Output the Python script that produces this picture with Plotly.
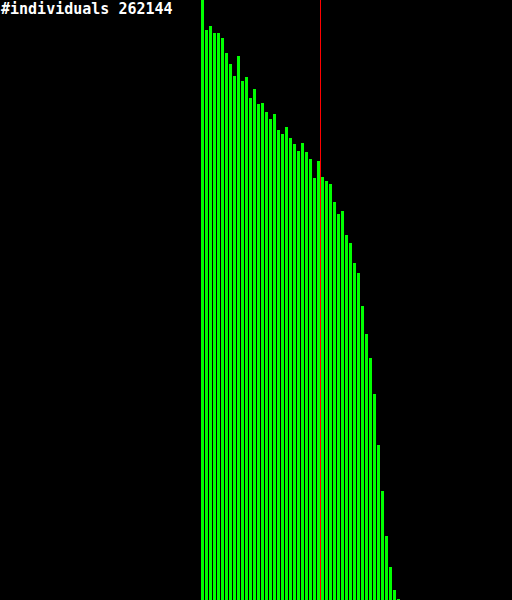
import plotly.graph_objects as go

# Histogram counts (in pixel-height units of a 0..600 scale)
bin_index = list(range(50))
counts = [600, 570, 574, 567, 567, 562, 547, 536, 524, 544,
          519, 523, 502, 511, 496, 497, 488, 481, 486, 470,
          466, 473, 462, 456, 449, 457, 448, 441, 422, 439,
          423, 419, 416, 398, 386, 389, 365, 357, 337, 327,
          294, 266, 242, 206, 155, 109, 64, 33, 10, 1]
marker_position = 29.5
title_text = "#individuals 262144"

fig = go.Figure()
fig.add_trace(go.Bar(
    x=bin_index, y=counts, width=0.75,
    marker=dict(color="#00ff00", line=dict(width=0)),
    hoverinfo="skip",
))
fig.add_shape(type="line", xref="x", yref="paper",
              x0=marker_position, x1=marker_position, y0=0, y1=1,
              line=dict(color="#ff0000", width=1), layer="above")
fig.add_annotation(text="<b>" + title_text + "</b>", xref="paper", yref="paper",
                   x=0, y=1, xanchor="left", yanchor="top",
                   showarrow=False, xshift=-1, yshift=2,
                   font=dict(family="DejaVu Sans Mono", size=15, color="white"))
fig.update_layout(
    width=512, height=600,
    margin=dict(l=0, r=0, t=0, b=0),
    paper_bgcolor="black", plot_bgcolor="black",
    showlegend=False, bargap=0,
    xaxis=dict(range=[-50.625, 77.375], visible=False, fixedrange=True),
    yaxis=dict(range=[0, 600], visible=False, fixedrange=True),
)
fig.write_html(
    "out.html",
    config={"displayModeBar": False},
    post_script="document.body.style.margin='0';document.body.style.overflow='hidden';document.body.style.background='black';",
)
